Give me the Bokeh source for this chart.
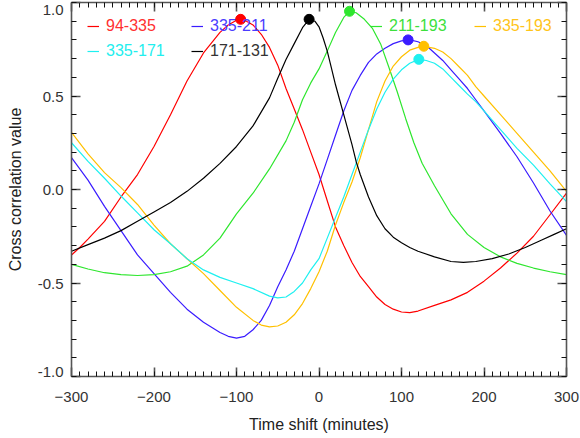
from bokeh.plotting import figure
from bokeh.models import (Range1d, LinearAxis, SingleIntervalTicker, Legend, LegendItem, PrintfTickFormatter)
from bokeh.embed import file_html
from bokeh.resources import INLINE

# ---------------- data ----------------
red_x = [-300, -290, -280, -260, -240, -220, -200, -180, -160, -140, -120, -110, -100, -95, -90, -80, -70, -60, -50, -40,
         -30, -20, -10, 0, 10, 20, 30, 40, 50, 60, 70, 80, 90, 100, 110, 120, 140, 160, 180, 200, 220, 240, 260, 280, 300]
red_y = [-0.35, -0.31, -0.265, -0.17, -0.04, 0.08, 0.23, 0.40, 0.58, 0.73, 0.84, 0.88, 0.905, 0.91, 0.905, 0.88, 0.83, 0.76, 0.665, 0.54,
         0.43, 0.32, 0.20, 0.08, -0.06, -0.20, -0.30, -0.39, -0.465, -0.52, -0.575, -0.615, -0.64, -0.655, -0.658, -0.65, -0.62, -0.59, -0.55, -0.49, -0.42, -0.34, -0.25, -0.135, -0.02]

blue_x = [-300, -280, -260, -240, -220, -200, -180, -160, -140, -120, -110, -100, -90, -80, -70, -60, -50, -40, -30, -20, -10,
          0, 10, 20, 30, 40, 50, 60, 70, 80, 90, 100, 110, 120, 130, 140, 150, 160, 170, 180, 190, 200, 220, 240, 260, 280, 300]
blue_y = [0.17, 0.05, -0.09, -0.22, -0.35, -0.45, -0.55, -0.64, -0.71, -0.765, -0.785, -0.795, -0.785, -0.75, -0.70, -0.62, -0.52, -0.43, -0.33, -0.21, -0.09,
          0.03, 0.16, 0.29, 0.42, 0.53, 0.61, 0.68, 0.725, 0.755, 0.78, 0.795, 0.80, 0.79, 0.77, 0.73, 0.69, 0.64, 0.59, 0.54, 0.48, 0.42, 0.30, 0.175, 0.035, -0.115, -0.245]

green_x = [-300, -280, -260, -240, -220, -200, -180, -160, -140, -120, -100, -80, -60, -40, -30, -20, -10, 0, 10, 20, 30, 37,
           45, 55, 65, 75, 85, 95, 105, 115, 125, 140, 160, 180, 200, 220, 240, 260, 280, 300]
green_y = [-0.40, -0.425, -0.445, -0.455, -0.46, -0.455, -0.44, -0.41, -0.35, -0.26, -0.13, -0.02, 0.11, 0.26, 0.36, 0.48, 0.57, 0.645, 0.74, 0.84, 0.92, 0.953,
           0.945, 0.91, 0.86, 0.775, 0.65, 0.52, 0.38, 0.25, 0.14, 0.02, -0.13, -0.24, -0.31, -0.36, -0.395, -0.42, -0.44, -0.455]

orange_x = [-300, -280, -260, -240, -220, -200, -180, -160, -140, -120, -100, -80, -70, -60, -50, -40, -30, -20, -10, 0, 10, 20,
            30, 40, 50, 60, 70, 80, 90, 100, 110, 120, 127, 140, 150, 160, 170, 180, 190, 200, 220, 240, 260, 280, 300]
orange_y = [0.305, 0.19, 0.09, 0.01, -0.08, -0.19, -0.29, -0.37, -0.45, -0.54, -0.63, -0.70, -0.725, -0.735, -0.73, -0.71, -0.67, -0.61, -0.53, -0.44, -0.33, -0.19,
            -0.07, 0.04, 0.17, 0.32, 0.47, 0.58, 0.66, 0.71, 0.745, 0.76, 0.766, 0.755, 0.735, 0.70, 0.655, 0.61, 0.55, 0.50, 0.40, 0.30, 0.20, 0.10, -0.01]

cyan_x = [-300, -280, -260, -240, -220, -200, -180, -160, -140, -120, -100, -80, -60, -50, -40, -30, -20, -10, 0, 10, 20, 30,
          40, 50, 60, 70, 80, 90, 100, 110, 121, 130, 140, 150, 160, 170, 180, 190, 200, 220, 240, 260, 280, 300]
cyan_y = [0.25, 0.15, 0.06, -0.035, -0.125, -0.215, -0.29, -0.37, -0.43, -0.47, -0.50, -0.53, -0.57, -0.58, -0.575, -0.545, -0.50, -0.43, -0.37, -0.26, -0.15, -0.04,
          0.08, 0.20, 0.32, 0.43, 0.52, 0.59, 0.64, 0.675, 0.696, 0.69, 0.675, 0.645, 0.60, 0.555, 0.51, 0.47, 0.42, 0.32, 0.22, 0.13, 0.03, -0.065]

black_x = [-300, -280, -260, -240, -220, -200, -180, -160, -140, -120, -100, -80, -60, -50, -40, -30, -20, -12, -5, 0, 5, 10,
           15, 20, 25, 30, 35, 40, 45, 50, 60, 70, 80, 90, 100, 110, 120, 140, 160, 175, 190, 210, 230, 250, 270, 285, 300]
black_y = [-0.33, -0.295, -0.26, -0.22, -0.17, -0.12, -0.07, -0.01, 0.06, 0.14, 0.23, 0.34, 0.49, 0.595, 0.695, 0.78, 0.865, 0.91, 0.90, 0.87, 0.81, 0.74,
           0.65, 0.56, 0.48, 0.40, 0.32, 0.24, 0.15, 0.08, -0.04, -0.14, -0.21, -0.255, -0.285, -0.31, -0.33, -0.36, -0.385, -0.39, -0.385, -0.37, -0.345, -0.31, -0.27, -0.24, -0.21]

labels = ["94-335", "335-211", "211-193", "335-193", "335-171", "171-131"]
colors = ["#ff0000", "#3a1cff", "#2ee62e", "#ffc000", "#1ef0f0", "#000000"]
text_colors = ["#ff3030", "#4a3cff", "#3ce03c", "#ffc41a", "#22eeee", "#333333"]
series_x = [red_x, blue_x, green_x, orange_x, cyan_x, black_x]
series_y = [red_y, blue_y, green_y, orange_y, cyan_y, black_y]

# peaks (filled circles)
peak_x = [-95, 108, 37, 127, 121, -12]
peak_y = [0.91, 0.80, 0.953, 0.766, 0.696, 0.91]

x_title = "Time shift (minutes)"
y_title = "Cross correlation value"

# ---------------- figure ----------------
FONT = "Liberation Sans"
p = figure(width=580, height=438, output_backend="svg", toolbar_location=None,
           x_range=Range1d(-300, 300), y_range=Range1d(-1.0, 1.0),
           min_border_left=71, min_border_right=14, min_border_top=2, min_border_bottom=62,
           x_axis_type=None, y_axis_type=None)
p.outline_line_color = None
p.grid.visible = False
p.background_fill_color = "white"

def style_axis(ax, show_labels):
    ax.axis_line_color = "#555555"
    ax.axis_line_width = 1.6
    ax.major_tick_line_color = "#555555"
    ax.major_tick_line_width = 1.6
    ax.minor_tick_line_color = "#111111"
    ax.minor_tick_line_width = 1
    ax.major_tick_in = 9
    ax.major_tick_out = 0
    ax.minor_tick_in = 5
    ax.minor_tick_out = 0
    ax.major_label_text_font = FONT
    ax.axis_label_text_font = FONT
    ax.axis_label_text_font_style = "normal"
    ax.axis_label_text_color = "#222222"
    ax.axis_label_text_font_size = "16px"
    if show_labels:
        ax.major_label_text_font_size = "15px"
        ax.major_label_text_color = "#333333"
    else:
        ax.major_label_text_font_size = "1px"
        ax.major_label_text_color = None
        ax.major_label_standoff = 0

def xt():
    return SingleIntervalTicker(interval=100, num_minor_ticks=10)

def yt():
    return SingleIntervalTicker(interval=0.5, num_minor_ticks=5)

xb = LinearAxis(ticker=xt(), axis_label=x_title)
style_axis(xb, True)
xb.major_label_standoff = 15
xb.axis_label_standoff = 11
p.add_layout(xb, "below")

yl = LinearAxis(ticker=yt(), axis_label=y_title, formatter=PrintfTickFormatter(format="%.1f"))
style_axis(yl, True)
yl.major_label_standoff = 8
yl.axis_label_standoff = 11
# bottom end label lifted slightly, as IDL does
yl.major_label_text_line_height = 0.55
yl.major_label_overrides = {-1.0: "-1.0\n"}
p.add_layout(yl, "left")

xa = LinearAxis(ticker=xt())
style_axis(xa, False)
p.add_layout(xa, "above")

yr = LinearAxis(ticker=yt())
style_axis(yr, False)
p.add_layout(yr, "right")

renderers = []
for xs, ys, c in zip(series_x, series_y, colors):
    r = p.line(xs, ys, line_color=c, line_width=1.2)
    renderers.append(r)

for px_, py_, c in zip(peak_x, peak_y, colors):
    p.scatter([px_], [py_], size=10, fill_color=c, line_color=c)

# legend entries (positions in screen px from frame bottom-left)
leg_pos = [(16, 341), (120, 341), (299, 341), (403, 341), (16, 316), (120, 316)]
for lab, r, tc, pos in zip(labels, renderers, text_colors, leg_pos):
    leg = Legend(items=[LegendItem(label=lab, renderers=[r])], location=pos,
                 border_line_color=None, background_fill_alpha=0, padding=0, margin=0,
                 spacing=0, glyph_width=12, glyph_height=16, label_height=16,
                 label_standoff=7, label_text_font=FONT, label_text_font_size="16px",
                 label_text_color=tc)
    p.add_layout(leg)

open("out.html", "w").write(file_html(p, INLINE))
